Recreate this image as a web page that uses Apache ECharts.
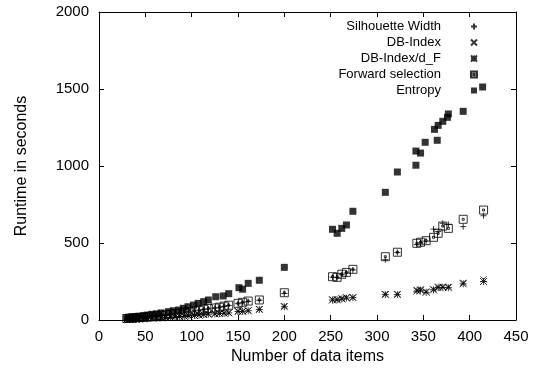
<!DOCTYPE html>
<html><head><meta charset="utf-8">
<script src="https://cdn.jsdelivr.net/npm/echarts@6/dist/echarts.min.js"></script>
<style>html,body{margin:0;padding:0;background:#fff}#c{width:541px;height:374px}</style>
</head><body><div id="c"></div>
<script>
var seriesNames = ['Silhouette Width','DB-Index','DB-Index/d_F','Forward selection','Entropy'];
var xTicks = [0,50,100,150,200,250,300,350,400,450];
var yTicks = [0,500,1000,1500,2000];

var itemsX = [30,33,36,40,43,48,52,57,62,67,72,77,82,87,92,97,103,108,113,118,125,130,135,140,150,155,161,173,200,252,257,262,267,274,309,322,343,347,353,361,366,371,377,393,415];
var silhouetteY = [10,11,12,14,16,18,20,23,26,29,33,37,41,45,49,54,58,63,68,73,77,82,88,94,106,113,120,128,172,278,275,294,305,325,392,438,490,500,512,590,575,628,621,606,677];
var forwardY = [10,11,13,14,16,18,21,24,27,30,34,38,42,46,50,55,60,64,70,75,78,83,90,96,108,115,123,130,177,281,277,297,309,329,411,440,498,505,515,537,563,610,595,654,714];
var dbIndexY = [4,5,6,7,8,9,10,12,13,15,17,19,21,23,25,27,30,33,36,39,41,43,45,47,58,58,62,71,91,134,134,141,147,147,169,169,195,200,185,200,216,216,216,242,264];
var dbIndexDfY = [4,5,5,6,7,8,9,11,12,14,16,18,20,22,24,26,29,32,35,38,40,42,44,46,55,56,60,68,86,130,131,137,143,145,165,165,188,193,180,196,210,212,210,235,250];
var entropyX = [30,33,36,40,43,48,52,57,62,67,75,80,86,91,96,102,107,113,118,126,134,140,151,155,161,173,200,252,257,262,267,274,309,322,342,342,347,352,362,365,366,371,376,377,393,414];
var entropyY = [16,18,20,22,25,28,32,37,40,46,54,60,65,76,86,97,108,119,130,151,156,171,210,200,238,258,342,589,563,595,617,706,829,961,1005,1097,1084,1154,1238,1167,1264,1290,1316,1338,1355,1513];

function pairs(xs, ys){ return xs.map(function(x,i){ return [x, ys[i]]; }); }

var symPlus = 'path://M0,3H6M3,0V6';
var symCross = 'path://M0,0L6,6M6,0L0,6';
var symStar = 'path://M0,0L6,6M6,0L0,6M0,3H6M3,0V6';
var symBoxDot = 'path://M0,0H8V8H0ZM3,3H5V5H3Z';
var symSquare = 'path://M0,0H6V6H0Z';

function strokeSeries(name, data, sym, size){
  return {name:name, type:'scatter', data:data, symbol:sym, symbolSize:size,
    itemStyle:{color:'rgba(0,0,0,0)', borderColor:'#000', borderWidth:1}, emphasis:{disabled:true}, z:3};
}

var font = 'Liberation Sans';
var chart = echarts.init(document.getElementById('c'), null, {renderer:'canvas'});
function axisCommon(){
  return {
    axisLine:{show:true, onZero:false, lineStyle:{color:'#000', width:1}},
    axisTick:{show:true, inside:true, length:5, lineStyle:{color:'#000'}},
    splitLine:{show:false}
  };
}
chart.setOption({
  animation:false,
  backgroundColor:'#fff',
  textStyle:{fontFamily:font},
  grid:{left:99, right:25, top:12, bottom:54, containLabel:false},
  legend:{
    orient:'vertical', right:58, top:15, align:'right', itemGap:3,
    itemWidth:56, itemHeight:6, selectedMode:false,
    data:seriesNames,
    formatter:function(n){ return '{a|'+n+'}'; },
    textStyle:{fontFamily:font, fontSize:13, color:'#000', rich:{a:{width:130, align:'right', fontFamily:font, fontSize:13, color:'#000'}}}
  },
  xAxis:[
    Object.assign(axisCommon(), {type:'value', min:0, max:450, interval:50, position:'bottom',
      name:'Number of data items', nameLocation:'middle', nameGap:29,
      nameTextStyle:{fontFamily:font, fontSize:16, color:'#000'},
      axisLabel:{fontFamily:font, fontSize:15, color:'#000', margin:9,
        formatter:function(v){ return xTicks.indexOf(v)>=0 ? String(v) : ''; }}}),
    Object.assign(axisCommon(), {type:'value', min:0, max:450, interval:50, position:'top', axisLabel:{show:false}})
  ],
  yAxis:[
    Object.assign(axisCommon(), {type:'value', min:0, max:2000, interval:500, position:'left',
      name:'Runtime in seconds', nameLocation:'middle', nameGap:69, nameRotate:90,
      nameTextStyle:{fontFamily:font, fontSize:16, color:'#000'},
      axisLabel:{fontFamily:font, fontSize:15, color:'#000', margin:10,
        formatter:function(v){ return yTicks.indexOf(v)>=0 ? String(v) : ''; }}}),
    Object.assign(axisCommon(), {type:'value', min:0, max:2000, interval:500, position:'right', axisLabel:{show:false}})
  ],
  series:[
    strokeSeries(seriesNames[0], pairs(itemsX, silhouetteY), symPlus, 6),
    strokeSeries(seriesNames[1], pairs(itemsX, dbIndexY), symCross, 6),
    strokeSeries(seriesNames[2], pairs(itemsX, dbIndexDfY), symStar, 7),
    strokeSeries(seriesNames[3], pairs(itemsX, forwardY), symBoxDot, 8),
    {name:seriesNames[4], type:'scatter', data:pairs(entropyX, entropyY), symbol:symSquare, symbolSize:7,
      itemStyle:{color:'#000'}, emphasis:{disabled:true}, z:3}
  ]
});
</script></body></html>
